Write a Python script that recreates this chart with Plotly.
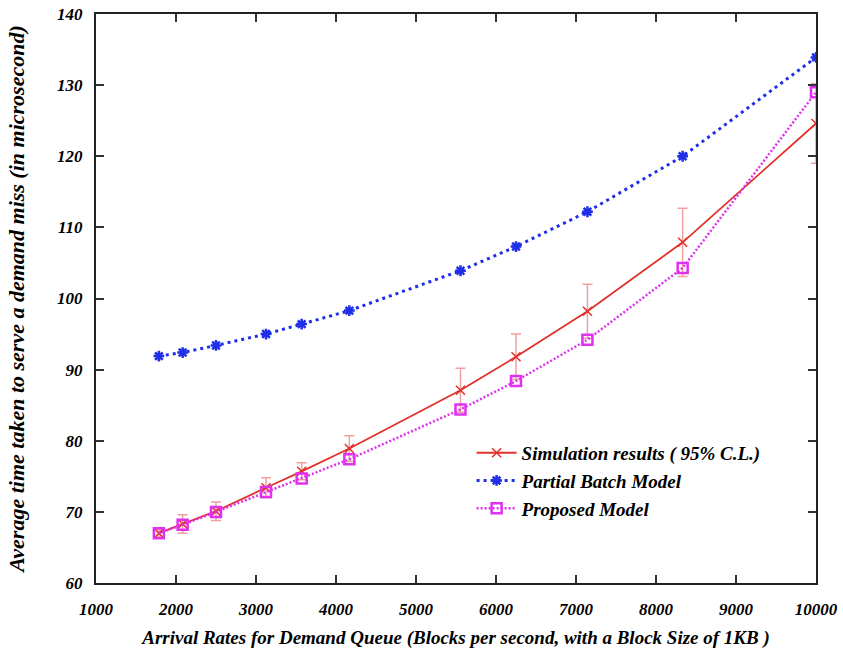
import plotly.graph_objects as go

arrival_rates = [1786, 2083, 2500, 3125, 3571, 4167, 5556, 6250, 7143, 8333, 10000]
simulation = [67.0, 68.3, 70.1, 73.4, 75.7, 78.9, 87.1, 91.8, 98.2, 107.9, 124.6]
simulation_ci = [0.5, 1.3, 1.3, 1.4, 1.2, 1.8, 3.1, 3.2, 3.8, 4.8, 5.6]
partial_batch = [91.9, 92.4, 93.4, 95.0, 96.4, 98.3, 103.9, 107.3, 112.2, 120.0, 133.9]
proposed = [67.0, 68.2, 70.0, 72.8, 74.7, 77.4, 84.4, 88.4, 94.2, 104.3, 129.0]

x_ticks = [1000, 2000, 3000, 4000, 5000, 6000, 7000, 8000, 9000, 10000]
y_ticks = [60, 70, 80, 90, 100, 110, 120, 130, 140]

font_family = "Liberation Serif"
def ffont(size):
    return dict(family=font_family, size=size, color="black", weight="bold", style="italic")

fig = go.Figure()
fig.add_trace(go.Scatter(
    x=arrival_rates, y=simulation, name="Simulation results ( 95% C.L.)",
    mode="lines+markers",
    line=dict(color="#e2302a", width=1.8),
    marker=dict(symbol="x-thin-open", size=9, line=dict(color="#e2302a", width=1.5)),
    error_y=dict(type="data", array=simulation_ci, visible=True, color="#f0a0a0", thickness=1.5, width=5),
))
fig.add_trace(go.Scatter(
    x=arrival_rates, y=partial_batch, name="Partial Batch Model",
    mode="lines+markers",
    line=dict(color="#1f2ee8", width=3, dash="3px,4px"),
    marker=dict(symbol="asterisk-open", size=9, line=dict(color="#1f2ee8", width=2.5)),
))
fig.add_trace(go.Scatter(
    x=arrival_rates, y=proposed, name="Proposed Model",
    mode="lines+markers",
    line=dict(color="#e030f0", width=2.5, dash="2px,2px"),
    marker=dict(symbol="square-open", size=10, line=dict(color="#d81ee8", width=2.5)),
))

axis_common = dict(
    showgrid=False, zeroline=False, showline=True, linecolor="#222", linewidth=2,
    mirror="allticks", ticks="inside", ticklen=8, tickwidth=1.5, tickcolor="#333",
    tickfont=ffont(17), automargin=False,
)
fig.update_xaxes(range=[1000, 10000], tickvals=x_ticks, ticktext=[str(v) for v in x_ticks],
                 ticklabelstandoff=10,
                 title=dict(text="Arrival Rates for Demand Queue (Blocks per second, with a Block Size of 1KB )",
                            font=ffont(19), standoff=12),
                 **axis_common)
fig.update_yaxes(range=[60, 140], tickvals=y_ticks, ticktext=[str(v) for v in y_ticks],
                 ticklabelstandoff=8,
                 title=dict(text="Average time taken to serve a demand miss (in microsecond)",
                            font=ffont(22), standoff=26),
                 **axis_common)

fig.update_layout(
    width=843, height=661,
    margin=dict(l=96, r=27, t=14, b=78),
    plot_bgcolor="white", paper_bgcolor="white",
    font=ffont(17),
    legend=dict(x=0.93, xanchor="right", y=0.262, yanchor="top",
                bgcolor="rgba(0,0,0,0)", font=ffont(19),
                tracegroupgap=0, itemwidth=40),
    showlegend=True,
)

fig.write_html("out.html",
               config={"displayModeBar": False},
               post_script="document.body.style.margin='0';document.body.style.overflow='hidden';")
